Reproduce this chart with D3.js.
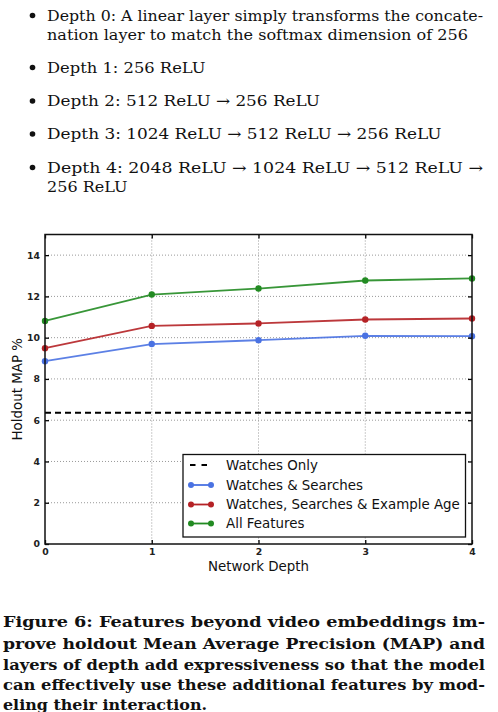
<!DOCTYPE html>
<html>
<head>
<meta charset="utf-8">
<script src="https://cdn.jsdelivr.net/npm/d3@7"></script>
<style>
  body { margin: 0; background: #fff; }
  svg { display: block; }
  .body { font-family: "DejaVu Serif", serif; font-size: 15px; fill: #111; }
  .cap { font-family: "DejaVu Serif", serif; font-size: 15px; font-weight: bold; fill: #111; }
  .lbl { font-family: "DejaVu Sans", sans-serif; font-size: 13.4px; fill: #111; }
  .tick text { font-family: "DejaVu Sans", sans-serif; font-size: 9.3px; fill: #222; }
</style>
</head>
<body>
<div id="chart"></div>
<script>
  // data
  var depths = [0, 1, 2, 3, 4];
  var watchesOnly = 6.36;
  var watchesSearches = [8.86, 9.69, 9.88, 10.09, 10.07];
  var watchesSearchesAge = [9.49, 10.57, 10.69, 10.88, 10.93];
  var allFeatures = [10.81, 12.09, 12.38, 12.77, 12.87];
  var seriesNames = ["Watches Only", "Watches & Searches", "Watches, Searches & Example Age", "All Features"];
  var seriesColors = ["#000000", "#4a72e2", "#b52226", "#228b22"];
  var yTicks = [0, 2, 4, 6, 8, 10, 12, 14];

  // text lines with the x where each ends in the figure
  var bullets = [
    [["Depth 0:  A linear layer simply transforms the concate-", 483], ["nation layer to match the softmax dimension of 256", 468]],
    [["Depth 1: 256 ReLU", 205.5]],
    [["Depth 2: 512 ReLU \u2192 256 ReLU", 320]],
    [["Depth 3: 1024 ReLU \u2192 512 ReLU \u2192 256 ReLU", 441.5]],
    [["Depth 4:  2048 ReLU \u2192 1024 ReLU \u2192 512 ReLU \u2192", 483], ["256 ReLU", 127.5]]
  ];
  var caption = [
    ["Figure 6:  Features beyond video embeddings im-", 485],
    ["prove holdout Mean Average Precision (MAP) and", 485],
    ["layers of depth add expressiveness so that the model", 485],
    ["can effectively use these additional features by mod-", 485],
    ["eling their interaction.", 207]
  ];

  var W = 498, H = 712;
  var svg = d3.select("#chart").append("svg")
    .attr("width", W).attr("height", H);
  svg.append("rect").attr("width", W).attr("height", H).attr("fill", "#fff");

  function writeLine(cls, str, x0, x1, yy) {
    svg.append("text").attr("class", cls)
      .attr("x", x0).attr("y", yy)
      .attr("textLength", x1 - x0).attr("lengthAdjust", "spacingAndGlyphs")
      .text(str);
  }

  var baseY = [20.5, 39.5, 72.5, 106, 139, 172.5, 192];
  var k = 0;
  bullets.forEach(function(b) {
    svg.append("circle").attr("cx", 32.5).attr("cy", baseY[k] - 5).attr("r", 2.8).attr("fill", "#111");
    b.forEach(function(line) {
      writeLine("body", line[0], 47, line[1], baseY[k]);
      k++;
    });
  });

  var capY = [626.5, 648.5, 669.5, 690, 710];
  caption.forEach(function(line, i) {
    writeLine("cap", line[0], 3, line[1], capY[i]);
  });

  // chart
  var pLeft = 45, pRight = 472, pTop = 234.5, pBottom = 544;
  var x = d3.scaleLinear().domain([0, 4]).range([pLeft, pRight]);
  var y = d3.scaleLinear().domain([0, 15]).range([pBottom, pTop]);

  var grid = svg.append("g").attr("stroke", "#999").attr("stroke-width", 1).attr("stroke-dasharray", "1,2");
  grid.selectAll(".gx").data(depths.slice(1, 4)).enter().append("line")
    .attr("x1", function(d) { return x(d); }).attr("x2", function(d) { return x(d); })
    .attr("y1", pTop).attr("y2", pBottom);
  grid.selectAll(".gy").data(yTicks.slice(1)).enter().append("line")
    .attr("x1", pLeft).attr("x2", pRight)
    .attr("y1", function(d) { return y(d); }).attr("y2", function(d) { return y(d); });

  // dashed baseline
  svg.append("line")
    .attr("x1", pLeft).attr("x2", pRight)
    .attr("y1", y(watchesOnly)).attr("y2", y(watchesOnly))
    .attr("stroke", "#000").attr("stroke-width", 2).attr("stroke-dasharray", "6,4");

  var line = d3.line()
    .x(function(d, i) { return x(depths[i]); })
    .y(function(d) { return y(d); });

  [watchesSearches, watchesSearchesAge, allFeatures].forEach(function(s, i) {
    var c = seriesColors[i + 1];
    svg.append("path").datum(s).attr("d", line)
      .attr("fill", "none").attr("stroke", c).attr("stroke-width", 1.8).attr("stroke-opacity", 0.9);
    svg.selectAll(".m" + i).data(s).enter().append("circle")
      .attr("cx", function(d, j) { return x(depths[j]); })
      .attr("cy", function(d) { return y(d); })
      .attr("r", 3.2).attr("fill", c);
  });

  // axes with inward ticks on all four sides
  var xAxis = svg.append("g").attr("class", "tick").attr("transform", "translate(0," + pBottom + ")")
    .call(d3.axisBottom(x).tickValues(depths).tickSize(-4).tickPadding(6).tickFormat(d3.format("d")));
  svg.append("g").attr("transform", "translate(0," + pTop + ")")
    .call(d3.axisTop(x).tickValues(depths).tickSize(-4).tickFormat(""));
  svg.append("g").attr("class", "tick").attr("transform", "translate(" + pLeft + ",0)")
    .call(d3.axisLeft(y).tickValues(yTicks).tickSize(-4).tickPadding(5).tickFormat(d3.format("d")));
  svg.append("g").attr("transform", "translate(" + pRight + ",0)")
    .call(d3.axisRight(y).tickValues(yTicks).tickSize(-4).tickFormat(""));
  svg.selectAll(".domain").remove();
  svg.selectAll(".tick line").attr("stroke", "#000").attr("stroke-width", 1.3);
  svg.selectAll(".tick text").attr("font-weight", "bold");
  xAxis.selectAll("text").attr("dy", "0.5em");

  svg.append("rect")
    .attr("x", pLeft).attr("y", pTop).attr("width", pRight - pLeft).attr("height", pBottom - pTop)
    .attr("fill", "none").attr("stroke", "#111").attr("stroke-width", 1.5);

  svg.append("text").attr("class", "lbl")
    .attr("x", (pLeft + pRight) / 2).attr("y", 571)
    .attr("text-anchor", "middle")
    .text("Network Depth");
  svg.append("text").attr("class", "lbl")
    .attr("transform", "translate(22," + (pTop + pBottom) / 2 + ") rotate(-90)")
    .attr("text-anchor", "middle")
    .text("Holdout MAP %");

  // legend
  var lg = svg.append("g");
  lg.append("rect").attr("x", 183).attr("y", 454.5).attr("width", 282.5).attr("height", 82.5)
    .attr("fill", "#fff").attr("stroke", "#111").attr("stroke-width", 1.3);
  var rowY = [465, 485, 504.5, 523.5];
  seriesNames.forEach(function(name, i) {
    var c = seriesColors[i];
    if (i === 0) {
      lg.append("line").attr("x1", 190).attr("x2", 207).attr("y1", rowY[i]).attr("y2", rowY[i])
        .attr("stroke", c).attr("stroke-width", 2).attr("stroke-dasharray", "5.5,6");
    } else {
      lg.append("line").attr("x1", 191).attr("x2", 211).attr("y1", rowY[i]).attr("y2", rowY[i])
        .attr("stroke", c).attr("stroke-width", 1.8);
      lg.selectAll(".lm" + i).data([191, 211]).enter().append("circle")
        .attr("cx", function(d) { return d; }).attr("cy", rowY[i]).attr("r", 3).attr("fill", c);
    }
    lg.append("text").attr("class", "lbl").attr("x", 226).attr("y", rowY[i] + 4.8)
      .text(name);
  });
</script>
</body>
</html>
